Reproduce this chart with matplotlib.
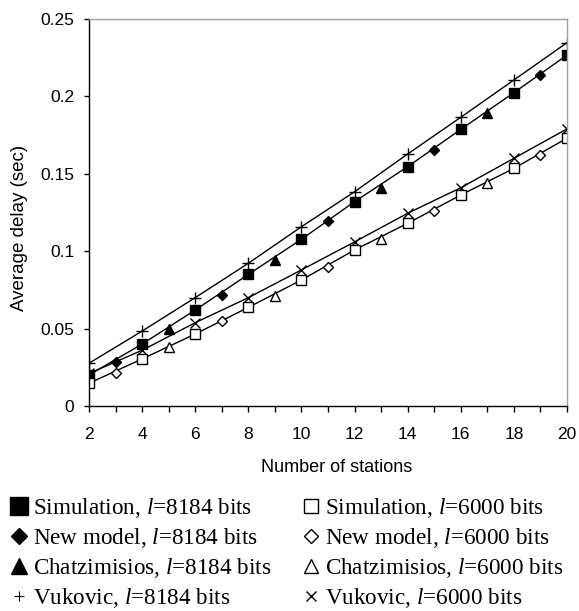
import matplotlib
matplotlib.use("Agg")
import matplotlib.pyplot as plt
from matplotlib.lines import Line2D

plt.rcParams['font.family'] = ['Liberation Sans', 'DejaVu Sans']
plt.rcParams['mathtext.fontset'] = 'custom'
plt.rcParams['mathtext.rm'] = 'Liberation Serif'
plt.rcParams['mathtext.it'] = 'Liberation Serif:italic'

# ---- data ----
x_even = [2, 4, 6, 8, 10, 12, 14, 16, 18, 20]
x_new = [3, 7, 11, 15, 19]
x_chatz = [5, 9, 13, 17]

sim_8184 = [0.020, 0.040, 0.062, 0.085, 0.1077, 0.132, 0.1546, 0.1787, 0.2024, 0.2267]
vuk_8184 = [0.0276, 0.0484, 0.070, 0.0922, 0.1158, 0.1384, 0.1628, 0.1865, 0.2106, 0.2347]
new_8184 = [0.0286, 0.0717, 0.1195, 0.1654, 0.2138]
chatz_8184 = [0.050, 0.0943, 0.141, 0.189]

sim_6000 = [0.0147, 0.0304, 0.0465, 0.0637, 0.0814, 0.1008, 0.118, 0.1363, 0.1535, 0.173]
vuk_6000 = [0.021, 0.036, 0.0538, 0.070, 0.0879, 0.106, 0.1245, 0.141, 0.160, 0.179]
new_6000 = [0.0215, 0.055, 0.090, 0.126, 0.162]
chatz_6000 = [0.038, 0.0713, 0.108, 0.1438]

labels_8184 = ["Simulation, $l$=8184 bits", "New model, $l$=8184 bits",
               "Chatzimisios, $l$=8184 bits", "Vukovic, $l$=8184 bits"]
labels_6000 = ["Simulation, $l$=6000 bits", "New model, $l$=6000 bits",
               "Chatzimisios, $l$=6000 bits", "Vukovic, $l$=6000 bits"]

xticks = [2, 4, 6, 8, 10, 12, 14, 16, 18, 20]
yticks = [0, 0.05, 0.1, 0.15, 0.2, 0.25]
ytick_labels = ["0", "0.05", "0.1", "0.15", "0.2", "0.25"]

# ---- figure ----
fig = plt.figure(figsize=(5.79, 6.11), dpi=100)
ax = fig.add_axes([89/579, 1-406/611, 478/579, 387/611])

k = dict(color='black', lw=1.0)
ax.plot(x_even, vuk_8184, marker='+', ms=8, mew=1.0, **k)
ax.plot(x_even, sim_8184, marker='s', ms=7, mfc='black', mec='black', **k)
ax.plot(x_new, new_8184, ls='none', marker='D', ms=5, mfc='black', mec='black', color='black')
ax.plot(x_chatz, chatz_8184, ls='none', marker='^', ms=7.5, mfc='black', mec='black', color='black')

ax.plot(x_even, vuk_6000, marker='x', ms=7.5, mew=1.0, **k)
ax.plot(x_even, sim_6000, marker='s', ms=7, mfc='white', mec='black', mew=1.0, **k)
ax.plot(x_new, new_6000, ls='none', marker='D', ms=5, mfc='white', mec='black', mew=1.0, color='black')
ax.plot(x_chatz, chatz_6000, ls='none', marker='^', ms=7.5, mfc='white', mec='black', mew=1.0, color='black')

ax.set_xlim(2, 20)
ax.set_ylim(0, 0.25)
ax.set_xticks(xticks)
ax.set_xticks(range(2, 21), minor=True)
ax.set_yticks(yticks)
ax.set_yticklabels(ytick_labels)
ax.tick_params(axis='both', which='both', direction='out', color='black', labelsize=12.5)
ax.tick_params(axis='x', which='both', length=4.3, width=1.0, pad=10.5)
ax.tick_params(axis='y', which='major', length=3.6, width=1.0, pad=7)

for s in ['left', 'bottom']:
    ax.spines[s].set_color('black')
    ax.spines[s].set_linewidth(1.0)
for s in ['top', 'right']:
    ax.spines[s].set_color('#a0a0a0')
    ax.spines[s].set_linewidth(1.0)

ax.set_xlabel("Number of stations", fontsize=13, va='center', ha='center')
ax.xaxis.set_label_coords((337-89)/478, (406-467)/387)
ax.set_ylabel("Average delay (sec)", fontsize=13.5, va='center', ha='center')
ax.yaxis.set_label_coords((20-89)/478, (406-228)/387)

# ---- legend ----
def h(marker, ms, fc, mew=1.0):
    return Line2D([], [], ls='none', marker=marker, ms=ms, mfc=fc, mec='black', mew=mew, color='black')

handles = [h('s', 12.5, 'black'), h('D', 8.5, 'black'), h('^', 12, 'black'), h('+', 7, 'black', 0.8),
           h('s', 10.5, 'white'), h('D', 7.5, 'white'), h('^', 10.5, 'white'), h('x', 6.5, 'black', 1.0)]
labels = labels_8184 + labels_6000
fig.legend(handles, labels, ncol=2, loc='upper left',
           bbox_to_anchor=(10/579, 1-496/611), bbox_transform=fig.transFigure,
           frameon=False, borderpad=0, borderaxespad=0,
           prop={'family': 'Liberation Serif', 'size': 16.7},
           handlelength=0.8, handletextpad=0.2, labelspacing=0.26, columnspacing=1.3)

fig.savefig("out.png", dpi=100)
